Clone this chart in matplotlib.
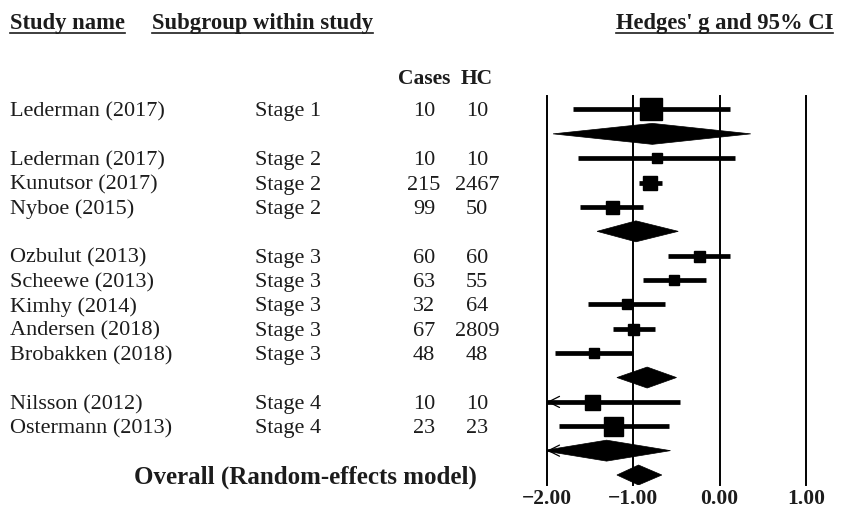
import matplotlib
matplotlib.use('Agg')
import matplotlib.pyplot as plt
import matplotlib.transforms as mtransforms
from matplotlib.patches import Polygon
from matplotlib.lines import Line2D

# study level data
study = ['Lederman (2017)', 'Lederman (2017)', 'Kunutsor (2017)', 'Nyboe (2015)',
         'Ozbulut (2013)', 'Scheewe (2013)', 'Kimhy (2014)', 'Andersen (2018)',
         'Brobakken (2018)', 'Nilsson (2012)', 'Ostermann (2013)']
stage = [1, 2, 2, 2, 3, 3, 3, 3, 3, 4, 4]
cases = [10, 10, 215, 99, 60, 63, 32, 67, 48, 10, 23]
hc = [10, 10, 2467, 50, 60, 55, 64, 2809, 48, 10, 23]
g = [-0.79, -0.73, -0.81, -1.25, -0.24, -0.53, -1.07, -1.00, -1.46, -1.48, -1.23]
g_lo = [-1.70, -1.64, -0.94, -1.62, -0.60, -0.89, -1.52, -1.24, -1.91, -2.50, -1.86]
g_hi = [0.12, 0.18, -0.67, -0.89, 0.12, -0.16, -0.63, -0.75, -1.02, -0.46, -0.59]
weight = [22, 10, 14, 13, 11, 10, 10, 11, 10, 15, 19]

# subgroup summaries (stage 1..4)
sub_g = [-0.78, -0.97, -0.84, -1.31]
sub_lo = [-1.93, -1.42, -1.19, -2.05]
sub_hi = [0.36, -0.48, -0.50, -0.57]

# overall
all_g, all_lo, all_hi = -0.94, -1.19, -0.67

ticks = [-2, -1, 0, 1]
tick_labels = ['\u22122.00', '\u22121.00', '0.00', '1.00']

W, H = 843, 513
fig = plt.figure(figsize=(W / 100, H / 100), dpi=100)
ax = fig.add_axes([547 / W, 1 - 485 / H, 259 / W, 389 / H])
xmin, xmax = ticks[0], ticks[-1]
ax.set_xlim(xmin, xmax)

# work out the rows: studies of a stage, then the stage diamond
rows = []
sub_rows = []
r = 0
for s in sorted(set(stage)):
    for i, st in enumerate(stage):
        if st == s:
            rows.append(r)
            r += 1
    sub_rows.append(r)
    r += 1
overall_row = r
ax.set_ylim(overall_row + 0.41, -0.554)

for t in ticks:
    ax.axvline(t, color='black', lw=1.4, clip_on=False, zorder=1)

txtc = '#1c1c1c'
serif = 'Liberation Serif'

def left_arrow(y):
    ax.annotate('', xy=(xmin, y), xytext=(xmin + 0.15, y),
                arrowprops=dict(arrowstyle='->', lw=0.9, color='black',
                                mutation_scale=20, shrinkA=0, shrinkB=0),
                zorder=4)

def diamond(y, est, lo, hi, h=0.43):
    p = Polygon([[lo, y], [est, y - h], [hi, y], [est, y + h]], closed=True,
                facecolor='black', edgecolor='black', lw=0.5, zorder=3)
    ax.add_patch(p)
    if lo < xmin:
        left_arrow(y)

for i in range(len(study)):
    y = rows[i]
    ax.plot([max(g_lo[i], xmin), g_hi[i]], [y, y], color='black', lw=3.4,
            solid_capstyle='butt', zorder=3)
    ax.plot(g[i], y, marker='s', color='black', markersize=weight[i] * 0.72, zorder=4)
    if g_lo[i] < xmin:
        left_arrow(y)

for k in range(len(sub_g)):
    diamond(sub_rows[k], sub_g[k], sub_lo[k], sub_hi[k])
diamond(overall_row, all_g, all_lo, all_hi, h=0.41)

for sp in ax.spines.values():
    sp.set_visible(False)
ax.set_yticks([])
ax.set_xticks(ticks)
ax.set_xticklabels(tick_labels, fontfamily=serif, fontweight='bold', fontsize=15.5, color=txtc)
ax.tick_params(axis='x', length=0, pad=3)

# text columns
tr = mtransforms.blended_transform_factory(fig.transFigure, ax.transData)
fs = 16
for i in range(len(study)):
    y = rows[i]
    ax.text(10 / W, y, study[i], transform=tr, ha='left', va='center_baseline',
            fontfamily=serif, fontsize=fs, color=txtc)
    ax.text(255 / W, y, 'Stage %d' % stage[i], transform=tr, ha='left', va='center_baseline',
            fontfamily=serif, fontsize=fs, color=txtc)
    ax.text(424 / W, y, str(cases[i]), transform=tr, ha='center', va='center_baseline',
            fontfamily=serif, fontsize=fs, color=txtc)
    ax.text(477 / W, y, str(hc[i]), transform=tr, ha='center', va='center_baseline',
            fontfamily=serif, fontsize=fs, color=txtc)

ax.text(477 / W, overall_row, 'Overall (Random-effects model)', transform=tr, ha='right',
        va='center_baseline', fontfamily=serif, fontweight='bold', fontsize=18, color=txtc)

fig.text(424 / W, 1 - 77 / H, 'Cases', ha='center', va='center_baseline', fontfamily=serif,
         fontweight='bold', fontsize=15.5, color=txtc)
fig.text(477 / W, 1 - 77 / H, 'HC', ha='center', va='center_baseline', fontfamily=serif,
         fontweight='bold', fontsize=15.5, color=txtc)

headers = [fig.text(10 / W, 1 - 21 / H, 'Study name', ha='left', va='center_baseline'),
           fig.text(152 / W, 1 - 21 / H, 'Subgroup within study', ha='left', va='center_baseline'),
           fig.text(833 / W, 1 - 21 / H, "Hedges' g and 95% CI", ha='right', va='center_baseline')]
for h in headers:
    h.set_fontfamily(serif)
    h.set_fontweight('bold')
    h.set_fontsize(16.3)
    h.set_color(txtc)

# underline the headers
fig.canvas.draw()
rend = fig.canvas.get_renderer()
for h in headers:
    bb = h.get_window_extent(renderer=rend)
    yy = (bb.y0 + 1) / fig.bbox.height
    fig.add_artist(Line2D([bb.x0 / fig.bbox.width, bb.x1 / fig.bbox.width], [yy, yy],
                          color=txtc, lw=1.2))

fig.savefig('out.png', dpi=100)
